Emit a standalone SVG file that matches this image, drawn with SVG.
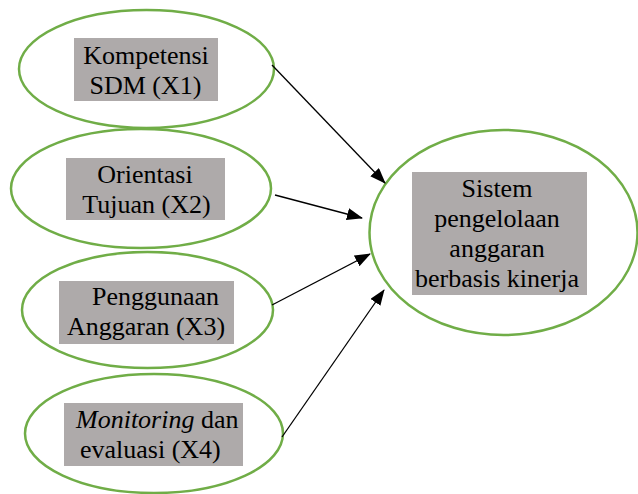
<svg xmlns="http://www.w3.org/2000/svg" width="638" height="494" viewBox="0 0 638 494">
<style>
.ell{fill:none;stroke:#70AD47;stroke-width:2.5}
.box{fill:#AEAAAA}
.t{font-family:"Liberation Serif","Times New Roman",serif;font-size:26px;fill:#000}
.c{text-anchor:middle}
.con{stroke:#000;stroke-width:1.3;fill:none}
</style>
<defs>
<marker id="ah" markerUnits="userSpaceOnUse" markerWidth="16" markerHeight="12" refX="15" refY="6" orient="auto">
<path d="M0,0 L16,6 L0,12 z" fill="#000"/>
</marker>
</defs>
<rect width="638" height="494" fill="#fff"/>
<g id="x1">
<ellipse class="ell" cx="146.5" cy="69" rx="127.5" ry="59"/>
<rect class="box" x="74" y="38" width="144" height="63"/>
<text class="t c" x="146" y="63.5">Kompetensi</text>
<text class="t c" x="145.5" y="94">SDM (X1)</text>
</g>
<g id="x2">
<ellipse class="ell" cx="141" cy="188.5" rx="130" ry="59.5"/>
<rect class="box" x="66" y="158" width="159" height="62"/>
<text class="t c" x="145" y="183">Orientasi</text>
<text class="t c" x="146.5" y="213">Tujuan (X2)</text>
</g>
<g id="x3">
<ellipse class="ell" cx="147.5" cy="310" rx="125.5" ry="58"/>
<rect class="box" x="59" y="281" width="175" height="63"/>
<text class="t c" x="155.5" y="305">Penggunaan</text>
<text class="t c" x="146" y="335">Anggaran (X3)</text>
</g>
<g id="x4">
<ellipse class="ell" cx="154" cy="433.5" rx="129" ry="59.5"/>
<rect class="box" x="64" y="403" width="179" height="63"/>
<text class="t" x="76" y="428"><tspan font-style="italic">Monitoring</tspan> dan</text>
<text class="t" x="80" y="458">evaluasi (X4)</text>
</g>
<g id="y">
<ellipse class="ell" cx="503.5" cy="232.5" rx="134" ry="102.5"/>
<rect class="box" x="412" y="172" width="175" height="123"/>
<text class="t c" x="497" y="197">Sistem</text>
<text class="t c" x="497" y="227">pengelolaan</text>
<text class="t c" x="497" y="257">anggaran</text>
<text class="t c" x="497" y="287">berbasis kinerja</text>
</g>
<g id="connectors">
<line class="con" x1="272" y1="65" x2="385" y2="183" marker-end="url(#ah)"/>
<line class="con" x1="275" y1="195" x2="362" y2="218" marker-end="url(#ah)"/>
<line class="con" x1="272" y1="305" x2="370" y2="254" marker-end="url(#ah)"/>
<line class="con" x1="282" y1="437" x2="384" y2="290" marker-end="url(#ah)"/>
</g>
</svg>
